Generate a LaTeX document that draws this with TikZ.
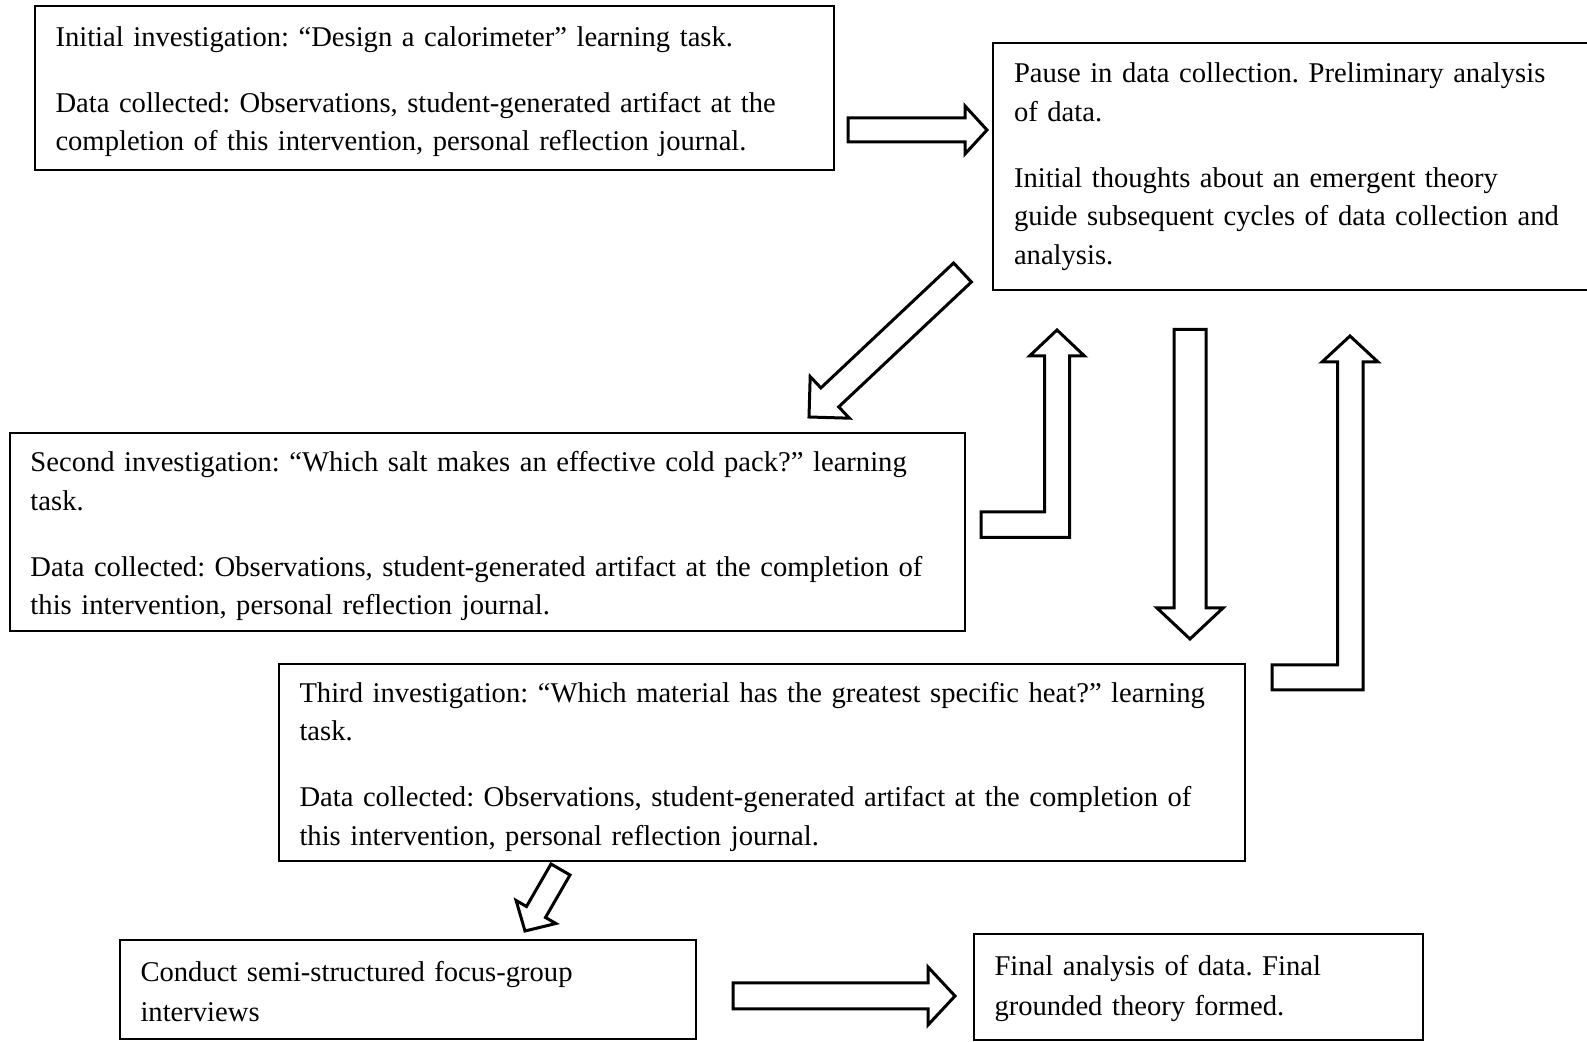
\documentclass[tikz,border=0pt]{standalone}
\usepackage{fontspec}
\setmainfont{Liberation Serif}
\frenchspacing
\newcommand\topgap[1]{\rule{0pt}{#1}}
\begin{document}
\begin{tikzpicture}[x=0.5pt,y=-0.5pt,
  box/.style={draw, line width=1pt, align=left, inner xsep=10.5pt, inner ysep=0pt,
    font=\fontsize{14.3pt}{19.25pt}\selectfont\frenchspacing, anchor=center},
  barrow/.style={draw, line width=1.5pt, fill=white, line join=miter, miter limit=10}]
\useasboundingbox (0,0) rectangle (1587,1042);

% boxes
\node[box, text width=378.75pt, minimum height=81.75pt] (b1) at (434.25,88.25)
  {\topgap{13.3pt}\mbox{Initial investigation: “Design a calorimeter” learning task.}\\[13.75pt]
   \mbox{Data collected: Observations, student-generated artifact at the}\\
   \mbox{completion of this intervention, personal reflection journal.}};

\node[box, text width=282.5pt, minimum height=123.25pt] (b2) at (1296.5,166.75)
  {\mbox{Pause in data collection. Preliminary analysis}\\
   \mbox{of data.}\\[13.75pt]
   \mbox{Initial thoughts about an emergent theory}\\
   \mbox{guide subsequent cycles of data collection and}\\
   \mbox{analysis.}};

\node[box, text width=456.75pt, minimum height=99pt] (b3) at (487.25,532)
  {\topgap{14.3pt}\mbox{Second investigation: “Which salt makes an effective cold pack?” learning}\\
   \mbox{task.}\\[13.75pt]
   \mbox{Data collected: Observations, student-generated artifact at the completion of}\\
   \mbox{this intervention, personal reflection journal.}};

\node[box, text width=462.25pt, minimum height=98.5pt] (b4) at (761.75,762.5)
  {\topgap{14.3pt}\mbox{Third investigation: “Which material has the greatest specific heat?” learning}\\
   \mbox{task.}\\[13.75pt]
   \mbox{Data collected: Observations, student-generated artifact at the completion of}\\
   \mbox{this intervention, personal reflection journal.}};

\node[box, text width=267.25pt, minimum height=49.5pt] (b5) at (407.75,990)
  {\topgap{11.3pt}\mbox{Conduct semi-structured focus-group}\\[0.75pt]
   \mbox{interviews}};

\node[box, text width=203.75pt, minimum height=53pt] (b6) at (1198.25,987.5)
  {\topgap{11.3pt}\mbox{Final analysis of data. Final}\\[0.75pt]
   \mbox{grounded theory formed.}};

% block arrows
% b1 -> b2
\draw[barrow] (848,118) -- (965,118) -- (965,106) -- (987,130) -- (965,154)
  -- (965,142) -- (848,142) -- cycle;
% b2 -> b3 (diagonal)
\draw[barrow] (953.6,263.0) -- (971.4,282.0) -- (838.7,406.9) -- (849.4,418.2)
  -- (809,417) -- (810.2,376.6) -- (820.9,387.9) -- cycle;
% b3 -> b2 (L-shaped)
\draw[barrow] (981,512) -- (1044.5,512) -- (1044.5,356) -- (1029.5,356) -- (1057,330)
  -- (1084.5,356) -- (1069.5,356) -- (1069.5,537.5) -- (981,537.5) -- cycle;
% b2 -> b4 (down)
\draw[barrow] (1174,329.5) -- (1206,329.5) -- (1206,608) -- (1223,608) -- (1190,639)
  -- (1157,608) -- (1174,608) -- cycle;
% b4 -> b2 (L-shaped)
\draw[barrow] (1272,665) -- (1337.5,665) -- (1337.5,362) -- (1322,362) -- (1350,336)
  -- (1378,362) -- (1363,362) -- (1363,690) -- (1272,690) -- cycle;
% b4 -> b5 (small diagonal)
\draw[barrow] (551,864) -- (570,875) -- (545.5,917.5) -- (555.9,923.5) -- (525,931)
  -- (516.1,900.5) -- (526.5,906.5) -- cycle;
% b5 -> b6
\draw[barrow] (733,983) -- (928,983) -- (928,967) -- (955,996) -- (928,1025)
  -- (928,1009) -- (733,1009) -- cycle;
\end{tikzpicture}
\end{document}
